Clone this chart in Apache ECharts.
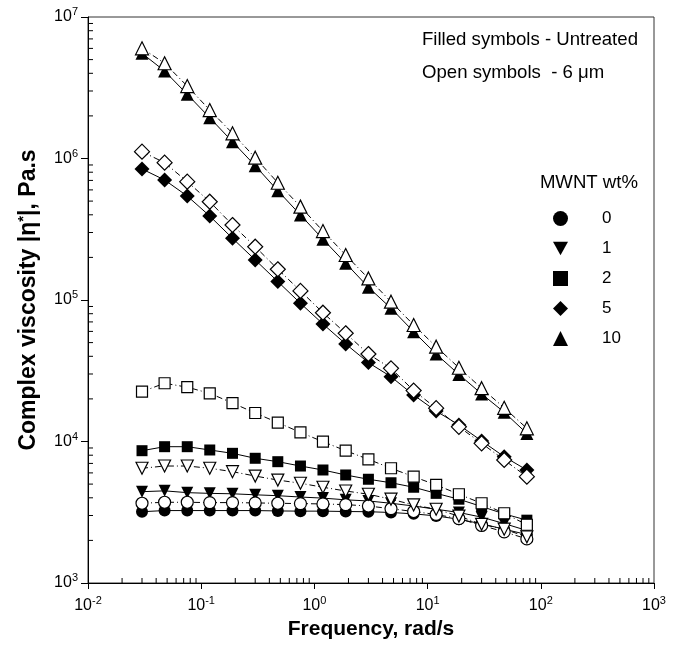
<!DOCTYPE html>
<html>
<head>
<meta charset="utf-8">
<script src="https://cdn.jsdelivr.net/npm/echarts@6/dist/echarts.min.js"></script>
<style>
html,body{margin:0;padding:0;background:#fff;}
#chart{width:681px;height:651px;}
</style>
</head>
<body>
<div id="chart"></div>
<script>
// Frequency, rad/s
const freq = [0.03, 0.0475, 0.0753, 0.119, 0.189, 0.3, 0.475, 0.753, 1.19, 1.89, 3, 4.75, 7.53, 11.9, 18.9, 30, 47.5, 75.3];

// Complex viscosity, Pa.s — filled symbols (untreated)
const untreated0  = [3190, 3250, 3250, 3250, 3250, 3250, 3230, 3220, 3220, 3200, 3190, 3150, 3080, 2980, 2820, 2620, 2400, 2200];
const untreated1  = [4420, 4480, 4350, 4300, 4270, 4200, 4140, 4050, 3980, 3870, 3800, 3660, 3500, 3320, 3150, 2920, 2630, 2350];
const untreated2  = [8610, 9190, 9190, 8710, 8250, 7610, 7200, 6710, 6290, 5800, 5410, 5110, 4750, 4300, 3910, 3470, 3080, 2780];
const untreated5  = [843000, 705000, 543000, 392000, 273000, 192000, 135000, 94800, 67700, 48900, 36100, 28700, 21300, 16400, 13100, 10100, 7810, 6290];
const untreated10 = [5540000, 4150000, 2840000, 1940000, 1314000, 889000, 592000, 399000, 269000, 182000, 123000, 87400, 59700, 41500, 29800, 21700, 16100, 11400];

// open symbols (6 um)
const treated0  = [3660, 3720, 3720, 3700, 3700, 3680, 3660, 3640, 3620, 3580, 3500, 3350, 3200, 3050, 2850, 2550, 2300, 2050];
const treated1  = [6470, 6710, 6710, 6470, 6120, 5700, 5340, 5070, 4750, 4470, 4240, 3910, 3560, 3320, 2970, 2600, 2400, 2120];
const treated2  = [22500, 25800, 24200, 21900, 18700, 15900, 13600, 11600, 9970, 8610, 7480, 6470, 5640, 4930, 4240, 3660, 3110, 2580];
const treated5  = [1117000, 934000, 686000, 495000, 339000, 238000, 165000, 116000, 81300, 58200, 41500, 32900, 22900, 17200, 12700, 9710, 7400, 5640];
const treated10 = [6010000, 4710000, 3250000, 2200000, 1507000, 1013000, 674000, 457000, 307000, 208000, 142000, 97300, 66600, 46800, 33200, 23800, 17300, 12400];

const wtLabels = ['0', '1', '2', '5', '10'];
const xDecades = [0.01, 0.1, 1, 10, 100];
const yDecades = [1000, 10000, 100000, 1000000];
const minorMult = [2, 3, 4, 5, 6, 7, 8, 9];

const minorX = [];
xDecades.forEach(d => minorMult.forEach(m => minorX.push(d * m)));
const minorY = [];
yDecades.forEach(d => minorMult.forEach(m => minorY.push(d * m)));

const FONT = 'Liberation Sans, Arial, sans-serif';
const pair = arr => freq.map((f, i) => [f, arr[i]]);

const DOWN_TRI = 'path://M0,0 L10,0 L5,9 Z';
const symbols = [
  {symbol: 'circle', size: 12, rot: 0, icon: 'circle'},
  {symbol: 'triangle', size: 12, rot: 180, icon: DOWN_TRI},
  {symbol: 'rect', size: 11, rot: 0, icon: 'rect'},
  {symbol: 'diamond', size: 15, rot: 0, icon: 'diamond'},
  {symbol: 'triangle', size: 13, rot: 0, icon: 'triangle'}
];
const filledData = [untreated0, untreated1, untreated2, untreated5, untreated10];
const openData = [treated0, treated1, treated2, treated5, treated10];

const series = [];
filledData.forEach((arr, k) => {
  series.push({
    name: wtLabels[k], type: 'line', data: pair(arr),
    symbol: symbols[k].symbol, symbolSize: symbols[k].size, symbolRotate: symbols[k].rot,
    itemStyle: {color: '#000', borderColor: '#000', borderWidth: 0},
    lineStyle: {color: '#000', width: 1, type: 'solid'},
    showAllSymbol: true, animation: false, silent: true
  });
});
openData.forEach((arr, k) => {
  series.push({
    name: wtLabels[k] + ' open', type: 'line', data: pair(arr),
    symbol: symbols[k].symbol, symbolSize: symbols[k].size, symbolRotate: symbols[k].rot,
    itemStyle: {color: '#fff', borderColor: '#000', borderWidth: 1.2},
    lineStyle: {color: '#000', width: 1, type: [6, 3, 1, 3]},
    showAllSymbol: true, animation: false, silent: true
  });
});
// minor ticks (log-spaced), drawn through the axes' scales
series.push({
  type: 'custom', silent: true, animation: false, clip: false, z: 10,
  data: minorX.map(v => [v, 1000]),
  renderItem: (params, api) => {
    const p = api.coord([api.value(0), api.value(1)]);
    return {type: 'line', shape: {x1: p[0], y1: p[1], x2: p[0], y2: p[1] - 5}, style: {stroke: '#000', lineWidth: 1}};
  }
});
series.push({
  type: 'custom', silent: true, animation: false, clip: false, z: 10,
  data: minorY.map(v => [0.01, v]),
  renderItem: (params, api) => {
    const p = api.coord([api.value(0), api.value(1)]);
    return {type: 'line', shape: {x1: p[0], y1: p[1], x2: p[0] + 5, y2: p[1]}, style: {stroke: '#000', lineWidth: 1}};
  }
});

const expLabel = v => {
  const e = Math.round(Math.log10(v));
  return '10{sup|' + e + '}';
};
const richLab = {
  sup: {fontSize: 11, fontFamily: FONT, color: '#000', padding: [0, 0, 10, 0]}
};

const chart = echarts.init(document.getElementById('chart'), null, {renderer: 'canvas'});
chart.setOption({
  backgroundColor: '#fff',
  animation: false,
  grid: {left: 88, top: 17, width: 566, height: 566, show: true, borderColor: '#333', borderWidth: 1, backgroundColor: 'transparent'},
  xAxis: {
    type: 'log', logBase: 10, min: 0.01, max: 1000,
    name: 'Frequency, rad/s', nameLocation: 'middle', nameGap: 33,
    nameTextStyle: {fontSize: 21, fontWeight: 'bold', fontFamily: FONT, color: '#000'},
    axisLine: {lineStyle: {color: '#000', width: 1}},
    axisTick: {show: true, inside: false, length: 6, lineStyle: {color: '#000'}},
    splitLine: {show: false},
    axisLabel: {fontSize: 16, fontFamily: FONT, color: '#000', margin: 12, formatter: expLabel, rich: richLab}
  },
  yAxis: {
    type: 'log', logBase: 10, min: 1000, max: 10000000,
    name: 'Complex viscosity |η{sup|*}|, Pa.s', nameLocation: 'middle', nameGap: 47,
    nameTextStyle: {fontSize: 23, fontWeight: 'bold', fontFamily: FONT, color: '#000',
      rich: {sup: {fontSize: 15, fontWeight: 'bold', fontFamily: FONT, color: '#000', padding: [0, 0, 10, 0]}}},
    axisLine: {lineStyle: {color: '#000', width: 1}},
    axisTick: {show: true, inside: false, length: 7, lineStyle: {color: '#000'}},
    splitLine: {show: false},
    axisLabel: {fontSize: 16, fontFamily: FONT, color: '#000', margin: 10, formatter: expLabel, rich: richLab}
  },
  legend: {
    data: wtLabels.map((n, k) => ({name: n, icon: symbols[k].icon})),
    orient: 'vertical', left: 548, top: 205, itemWidth: 15, itemHeight: 15, itemGap: 13,
    selectedMode: false,
    itemStyle: {color: '#000', borderWidth: 0},
    textStyle: {fontSize: 17, fontFamily: FONT, color: '#000', padding: [0, 0, 0, 29]}
  },
  graphic: [
    {type: 'text', left: 422, top: 30, style: {text: 'Filled symbols - Untreated', fontSize: 18.6, fontFamily: FONT, fill: '#000'}},
    {type: 'text', left: 422, top: 63, style: {text: 'Open symbols  - 6 μm', fontSize: 18.6, fontFamily: FONT, fill: '#000'}},
    {type: 'text', right: 43, top: 173, style: {text: 'MWNT wt%', fontSize: 18.6, fontFamily: FONT, fill: '#000'}}
  ],
  series: series
});
</script>
</body>
</html>
